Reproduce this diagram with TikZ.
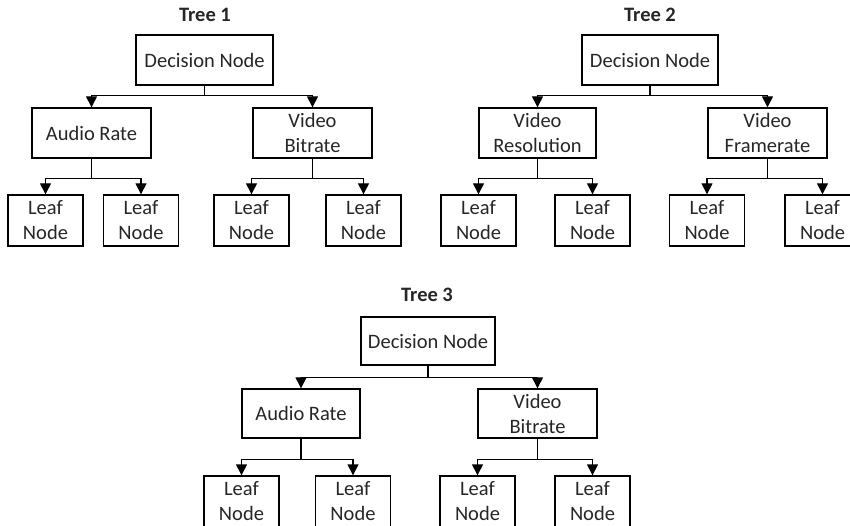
\documentclass[tikz,border=0pt]{standalone}
\usepackage{fontspec}
\setmainfont{Carlito}
\usetikzlibrary{arrows.meta}
\tikzset{
  box/.style={draw=black, line width=1.4pt, inner sep=0pt, align=center, text=black!85,
    font=\fontsize{20.5}{25}\selectfont},
  title/.style={inner sep=0pt, font=\fontsize{20.5}{25}\selectfont\bfseries, text=black!85},
  arr/.style={draw=black, line width=1.4pt, -{Triangle[length=11pt,width=11pt]}},
}
\begin{document}
\begin{tikzpicture}[x=1pt,y=-1pt]
\useasboundingbox (0,0) rectangle (850,526);
% ---------- Tree 1 ----------
\node[title] (t1) at (205,15) {Tree 1};
\node[box, minimum width=137pt, minimum height=50pt] (d1) at (204.5,60) {Decision Node};
\node[box, minimum width=119pt, minimum height=50pt] (a1) at (91.5,133) {Audio Rate};
\node[box, minimum width=119pt, minimum height=50pt] (b1) at (312.5,133) {Video\\Bitrate};
\node[box, minimum width=75pt, minimum height=51pt] (l11) at (45.5,220.5) {Leaf\\Node};
\node[box, minimum width=75pt, minimum height=51pt] (l12) at (141,220.5) {Leaf\\Node};
\node[box, minimum width=75pt, minimum height=51pt] (l13) at (251.5,220.5) {Leaf\\Node};
\node[box, minimum width=75pt, minimum height=51pt] (l14) at (363.5,220.5) {Leaf\\Node};
\draw[arr] (d1.south) -- ([yshift=-10pt]d1.south) -| (a1.north);
\draw[arr] (d1.south) -- ([yshift=-10pt]d1.south) -| (b1.north);
\draw[arr] (a1.south) -- ([yshift=-20pt]a1.south) -| (l11.north);
\draw[arr] (a1.south) -- ([yshift=-20pt]a1.south) -| (l12.north);
\draw[arr] (b1.south) -- ([yshift=-20pt]b1.south) -| (l13.north);
\draw[arr] (b1.south) -- ([yshift=-20pt]b1.south) -| (l14.north);
% ---------- Tree 2 ----------
\node[title] (t2) at (650,15) {Tree 2};
\node[box, minimum width=136pt, minimum height=50pt] (d2) at (650,60) {Decision Node};
\node[box, minimum width=117pt, minimum height=50pt] (r2) at (537.5,133) {Video\\Resolution};
\node[box, minimum width=119pt, minimum height=50pt] (f2) at (767.5,133) {Video\\Framerate};
\node[box, minimum width=75pt, minimum height=51pt] (l21) at (478.5,220.5) {Leaf\\Node};
\node[box, minimum width=75pt, minimum height=51pt] (l22) at (592.5,220.5) {Leaf\\Node};
\node[box, minimum width=75pt, minimum height=51pt] (l23) at (707,220.5) {Leaf\\Node};
\node[box, minimum width=75pt, minimum height=51pt] (l24) at (822.5,220.5) {Leaf\\Node};
\draw[arr] (d2.south) -- ([yshift=-10pt]d2.south) -| (r2.north);
\draw[arr] (d2.south) -- ([yshift=-10pt]d2.south) -| (f2.north);
\draw[arr] (r2.south) -- ([yshift=-20pt]r2.south) -| (l21.north);
\draw[arr] (r2.south) -- ([yshift=-20pt]r2.south) -| (l22.north);
\draw[arr] (f2.south) -- ([yshift=-20pt]f2.south) -| (l23.north);
\draw[arr] (f2.south) -- ([yshift=-20pt]f2.south) -| (l24.north);
% ---------- Tree 3 ----------
\node[title] (t3) at (427,295) {Tree 3};
\node[box, minimum width=134pt, minimum height=48pt] (d3) at (428,341) {Decision Node};
\node[box, minimum width=118pt, minimum height=49pt] (a3) at (301,413.5) {Audio Rate};
\node[box, minimum width=119pt, minimum height=49pt] (b3) at (537.5,413.5) {Video\\Bitrate};
\node[box, minimum width=75pt, minimum height=51pt] (l31) at (241.5,501.5) {Leaf\\Node};
\node[box, minimum width=75pt, minimum height=51pt] (l32) at (353,501.5) {Leaf\\Node};
\node[box, minimum width=75pt, minimum height=51pt] (l33) at (477.5,501.5) {Leaf\\Node};
\node[box, minimum width=75pt, minimum height=51pt] (l34) at (592.5,501.5) {Leaf\\Node};
\draw[arr] (d3.south) -- ([yshift=-12pt]d3.south) -| (a3.north);
\draw[arr] (d3.south) -- ([yshift=-12pt]d3.south) -| (b3.north);
\draw[arr] (a3.south) -- ([yshift=-21pt]a3.south) -| (l31.north);
\draw[arr] (a3.south) -- ([yshift=-21pt]a3.south) -| (l32.north);
\draw[arr] (b3.south) -- ([yshift=-21pt]b3.south) -| (l33.north);
\draw[arr] (b3.south) -- ([yshift=-21pt]b3.south) -| (l34.north);
\end{tikzpicture}
\end{document}
